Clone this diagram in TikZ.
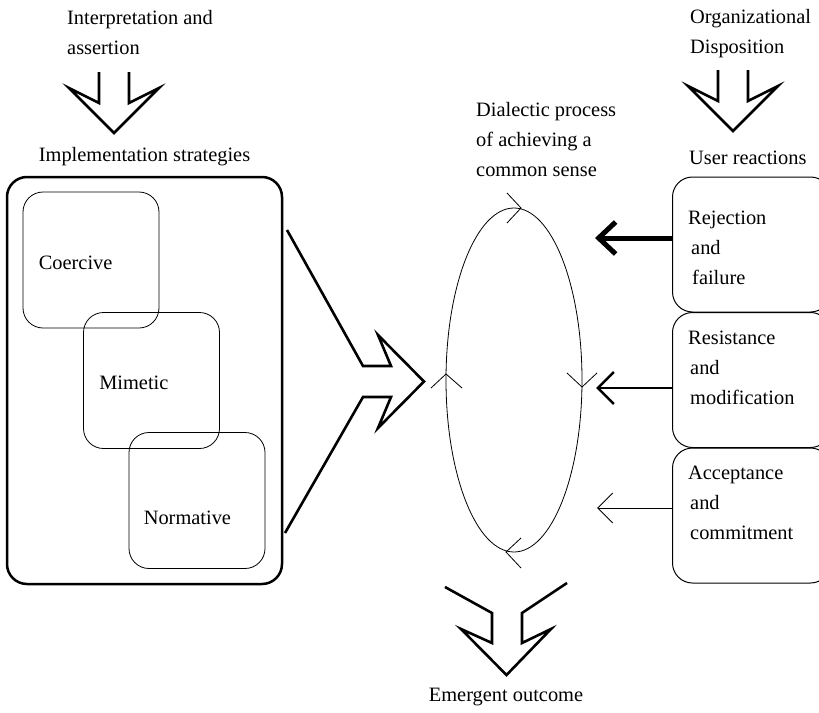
\documentclass[tikz,border=0pt]{standalone}
\usepackage{fontspec}
\setmainfont{Liberation Serif}
\usetikzlibrary{positioning,arrows.meta}

\tikzset{
  txt/.style={inner sep=0pt, font=\fontsize{20.4}{30}\selectfont, align=left},
  outerbox/.style={draw, line width=2.5pt, rounded corners=20pt, minimum width=275pt, minimum height=407pt},
  strat/.style={draw, line width=0.8pt, rounded corners=20pt, minimum width=136pt, minimum height=136pt},
  react/.style={draw, line width=1pt, rounded corners=20pt, minimum width=158pt, minimum height=135pt, anchor=west},
  hollow/.style={line width=2.6pt, line join=miter},
  chev/.style={-{Straight Barb[length=15pt,width=30pt]}},
}

\begin{document}
\begin{tikzpicture}[x=1pt,y=-1pt]
    \path[use as bounding box] (0,0) rectangle (819,712);
    \clip (0,0) rectangle (819,712);
    % implementation strategies
    \node[outerbox] (impl) at (144.5,380.5) {};
    \node[txt, above=10pt of impl] (impltitle) {Implementation strategies};
    \node[strat] (coe) at (91,260) {};
    \node[strat] (mim) at (151.5,380.5) {};
    \node[strat] (nor) at (197,500.5) {};
    \node[txt, right=16pt of coe.west, yshift=-3pt] {Coercive};
    \node[txt, right=16pt of mim.west, yshift=-2.5pt] {Mimetic};
    \node[txt, right=15pt of nor.west, yshift=-17.5pt] {Normative};
    % inputs from above
    \node[txt, anchor=west] (interp) at (67,33) {Interpretation and\\assertion};
    \node[txt, anchor=west] (orgdisp) at (690,34) {Organizational\\Disposition};
    \coordinate (in1) at (114,72);
    \coordinate (in2) at (733,70);
    \draw[hollow] (in1) ++(-15,0) -- ++(0,31) -- ++(-30,-15) -- ++(45,45) -- ++(45,-45) -- ++(-30,15) -- ++(0,-31);
    \draw[hollow] (in2) ++(-15,0) -- ++(0,31) -- ++(-30,-15) -- ++(45,45) -- ++(45,-45) -- ++(-30,15) -- ++(0,-31);
    % strategies into the process
    \draw[hollow] (287,230) -- (363,366) -- (391,366) -- (378,335) -- (424,381.5) -- (378,428) -- (391,397) -- (363,397) -- (285,533);
    % dialectic process
    \node[txt, anchor=west] (dialtxt) at (476,140) {Dialectic process\\of achieving a\\common sense};
    \coordinate (proc) at (514,380);
    \draw[line width=0.8pt] (proc) ellipse (68 and 172);
    \draw[line width=0.8pt] (507,193) -- (521,208) -- (507,223);
    \draw[line width=0.8pt] (567,373) -- (582,387) -- (597,373);
    \draw[line width=0.8pt] (521,538) -- (506,552) -- (521,568);
    \draw[line width=0.8pt] (431,388) -- (446,374) -- (462,388);
    % user reactions
    \node[txt, anchor=west] (usertxt) at (689,158) {User reactions};
    \node[react] (rej) at (672,244.5) {};
    \node[react] (res) at (672,380) {};
    \node[react] (acc) at (672,515.5) {};
    \node[txt, right=16pt of rej.west, yshift=-3.5pt] {Rejection\\\hspace*{3pt}and\\\hspace*{4pt}failure};
    \node[txt, right=16pt of res.west, yshift=12pt] {Resistance\\\hspace*{2pt}and\\\hspace*{2pt}modification};
    \node[txt, right=16pt of acc.west, yshift=12.5pt] {Acceptance\\\hspace*{2pt}and\\\hspace*{2pt}commitment};
    \coordinate (t1) at (595,238);
    \coordinate (t2) at (596,388);
    \coordinate (t3) at (597,508);
    \draw[line width=5pt, -{Straight Barb[length=17pt,width=32pt]}] (rej.west |- t1) -- (t1);
    \draw[line width=2.5pt, -{Straight Barb[length=16pt,width=32pt]}] (res.west |- t2) -- (t2);
    \draw[line width=1pt, chev] (acc.west |- t3) -- (t3);
    % outcome
    \draw[hollow] (445,587) -- (492,613) -- (492,643) -- (461,629) -- (506.5,675) -- (551,629) -- (522,643) -- (522,613) -- (567,583);
    \node[txt] (emerg) at (506,697) {Emergent outcome};
\end{tikzpicture}
\end{document}
